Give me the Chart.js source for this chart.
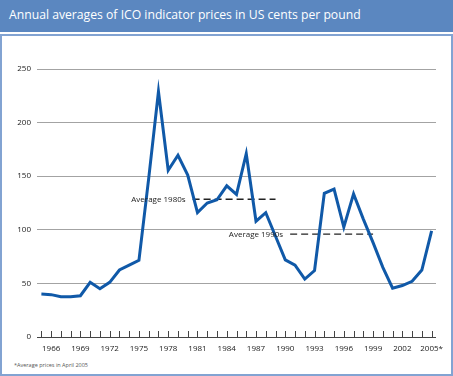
<!DOCTYPE html>
<html>
<head>
<meta charset="utf-8">
<script src="https://cdn.jsdelivr.net/npm/chart.js@4"></script>
<style>
  html, body { margin: 0; padding: 0; background: #ffffff; }
  #page { position: relative; width: 453px; height: 376px; overflow: hidden; font-family: "Open Sans", sans-serif; }
  #band { position: absolute; left: 0; top: 0; width: 453px; height: 32px; background: #5b87c0; }
  #title { position: absolute; left: 9px; top: 6px; color: #ffffff; font-size: 12.2px; white-space: nowrap; }
  #frame { position: absolute; left: 0; top: 34px; width: 449px; height: 338px; border: 2px solid #82a3d2; }
  #note { position: absolute; left: 14px; top: 361px; font-size: 5.5px; color: #555; white-space: nowrap; }
  #chart { position: absolute; left: 0; top: 0; }
</style>
</head>
<body>
<div id="page">
  <div id="band"><div id="title">Annual averages of ICO indicator prices in US cents per pound</div></div>
  <div id="frame"></div>
  <div id="note">*Average prices in April 2005</div>
  <canvas id="chart" width="453" height="376"></canvas>
</div>
<script>
// ICO indicator prices, US cents per pound
const years = [
  1965, 1966, 1967, 1968, 1969, 1970, 1971, 1972, 1973, 1974,
  1975, 1976, 1977, 1978, 1979, 1980, 1981, 1982, 1983, 1984,
  1985, 1986, 1987, 1988, 1989, 1990, 1991, 1992, 1993, 1994,
  1995, 1996, 1997, 1998, 1999, 2000, 2001, 2002, 2003, 2004, 2005,
];
const prices = [
  40, 39.5, 37.5, 37.5, 38.5, 51, 45, 51, 62.5, 67,
  71.5, 148, 229, 155.5, 169.5, 151, 116, 125, 128, 141,
  133, 171, 108, 116, 94, 72, 67, 54, 62, 134,
  138, 102.5, 133.5, 110, 88, 65, 45.5, 48, 52, 62.5, 99,
];
const yTicks = [0, 50, 100, 150, 200, 250];
const labelYears = [1966, 1969, 1972, 1975, 1978, 1981, 1984, 1987, 1990, 1993, 1996, 1999, 2002, 2005];

const avg80Span = [1980.5, 1989];
const avg80Value = 128.5;
const avg90Span = [1990.5, 1999];
const avg90Value = 96;

const axisFont = { family: "Open Sans", size: 8 };

const decorPlugin = {
    id: "decor",
    afterDatasetsDraw(chart) {
        const ctx = chart.ctx;
        const x = chart.scales.x;
        const y = chart.scales.y;
        const base = y.getPixelForValue(0);

        ctx.save();
        // small tick marks standing on the base line
        ctx.strokeStyle = "#444";
        ctx.lineWidth = 1;
        years.forEach((yr) => {
            const px = Math.round(x.getPixelForValue(yr)) + 0.5;
            ctx.beginPath();
            ctx.moveTo(px, base);
            ctx.lineTo(px, base - 6);
            ctx.stroke();
        });

        // average labels
        ctx.fillStyle = "#222";
        ctx.font = "8px 'Open Sans'";
        ctx.textAlign = "right";
        ctx.textBaseline = "middle";
        ctx.fillText("Average 1980s", x.getPixelForValue(avg80Span[0]) - 7, y.getPixelForValue(avg80Value));
        ctx.fillText("Average 1990s", x.getPixelForValue(avg90Span[0]) - 7, y.getPixelForValue(avg90Value) + 1);
        ctx.restore();
    },
};

new Chart(document.getElementById("chart"), {
    type: "line",
    data: {
        datasets: [
            {
                data: years.map((yr, i) => ({ x: yr, y: prices[i] })),
                borderColor: "#1059a8",
                borderWidth: 3,
                pointRadius: 0,
                tension: 0,
                fill: false,
            },
            {
                data: avg80Span.map((v) => ({ x: v, y: avg80Value })),
                borderColor: "#222",
                borderWidth: 1.3,
                borderDash: [7, 4],
                pointRadius: 0,
            },
            {
                data: avg90Span.map((v) => ({ x: v, y: avg90Value })),
                borderColor: "#222",
                borderWidth: 1.3,
                borderDash: [7, 4],
                pointRadius: 0,
            },
        ],
    },
    options: {
        responsive: false,
        animation: false,
        layout: { padding: { left: 0, top: 69, right: 17, bottom: 19 } },
        plugins: {
            legend: { display: false },
            tooltip: { enabled: false },
        },
        scales: {
            x: {
                type: "linear",
                min: 1964.55,
                max: 2005.45,
                afterBuildTicks: (scale) => {
                    scale.ticks = years.map((v) => ({ value: v }));
                },
                afterFit: (scale) => {
                    scale.height = 20;
                },
                grid: { display: false, drawTicks: false },
                border: { display: false },
                ticks: {
                    autoSkip: false,
                    maxRotation: 0,
                    padding: 7,
                    color: "#222",
                    font: axisFont,
                    callback: (value) => {
                        if (!labelYears.includes(value)) return "";
                        return value === 2005 ? "2005*" : String(value);
                    },
                },
            },
            y: {
                min: 0,
                max: 250,
                afterBuildTicks: (scale) => {
                    scale.ticks = yTicks.map((v) => ({ value: v }));
                },
                afterFit: (scale) => {
                    scale.width = 37;
                },
                border: { display: false },
                grid: {
                    drawTicks: false,
                    color: (c) => (c.tick && c.tick.value === 0 ? "#444" : "#a3a3a3"),
                    lineWidth: 1,
                },
                ticks: {
                    padding: 6,
                    color: "#222",
                    font: axisFont,
                },
            },
        },
    },
    plugins: [decorPlugin],
});
</script>
</body>
</html>
